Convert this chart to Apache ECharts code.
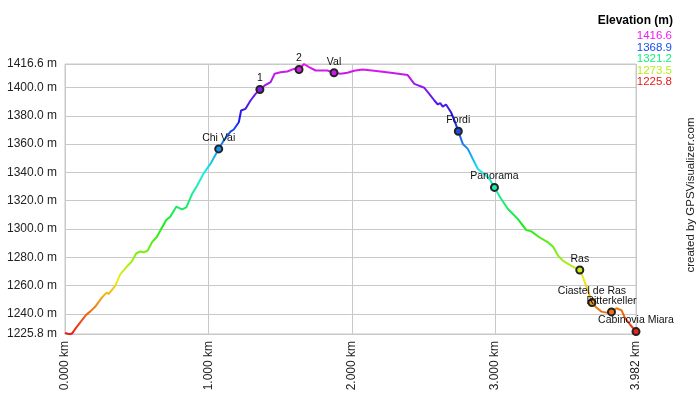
<!DOCTYPE html>
<html>
<head>
<meta charset="utf-8">
<script src="https://cdn.jsdelivr.net/npm/echarts@6/dist/echarts.min.js"></script>
<style>html,body{margin:0;padding:0;background:#fff}#c{width:700px;height:400px}</style>
</head>
<body>
<div id="c"></div>
<script>
// Track profile: distance (km) and elevation (m)
var distKm = [0.000,0.020,0.035,0.050,0.070,0.105,0.147,0.175,0.210,0.257,0.290,0.305,0.315,0.350,0.385,0.430,0.466,0.496,0.524,0.550,0.576,0.606,0.641,0.664,0.706,0.734,0.776,0.816,0.846,0.886,0.921,0.967,1.014,1.072,1.107,1.154,1.177,1.212,1.228,1.259,1.294,1.329,1.359,1.399,1.434,1.462,1.503,1.550,1.597,1.632,1.667,1.702,1.748,1.830,1.876,1.923,1.970,2.016,2.075,2.156,2.273,2.390,2.436,2.506,2.540,2.576,2.600,2.617,2.634,2.657,2.692,2.716,2.743,2.774,2.809,2.844,2.879,2.925,2.960,2.995,3.042,3.089,3.159,3.217,3.252,3.310,3.369,3.404,3.439,3.474,3.531,3.590,3.613,3.650,3.675,3.706,3.741,3.776,3.811,3.846,3.881,3.904,3.939,3.982];
var elevM = [1226.6,1226.0,1225.8,1226.2,1229.2,1233.9,1239.3,1241.6,1245.0,1251.5,1255.0,1254.2,1255.0,1259.8,1268.0,1273.3,1277.0,1282.7,1284.1,1283.6,1284.6,1290.5,1294.5,1298.8,1306.3,1308.7,1315.8,1313.9,1315.3,1324.7,1330.6,1339.3,1346.0,1356.6,1362.5,1368.8,1370.3,1375.4,1383.7,1384.9,1390.8,1395.5,1398.6,1401.9,1403.8,1409.7,1410.8,1411.3,1413.2,1412.7,1416.6,1414.4,1412.0,1412.0,1410.4,1409.7,1410.4,1411.8,1412.7,1411.8,1410.4,1408.8,1402.6,1399.8,1395.5,1390.8,1388.0,1388.9,1386.5,1388.0,1382.5,1376.6,1369.1,1360.1,1356.6,1349.5,1342.4,1338.9,1335.3,1329.4,1321.2,1314.1,1307.0,1299.2,1298.3,1294.0,1290.5,1287.4,1281.1,1277.5,1274.0,1271.0,1265.7,1255.5,1248.0,1244.5,1241.6,1240.9,1241.4,1244.0,1242.6,1237.4,1232.7,1227.5];

// Waypoints
var wpNames = ['Chi Vai','1','2','Val','Fordi','Panorama','Ras','Ciastel de Ras','Ritterkeller','Cabinovia Miara'];
var wpDist = [1.072,1.359,1.632,1.876,2.743,2.995,3.590,3.675,3.811,3.982];
var wpElev = [1356.6,1398.6,1412.7,1410.4,1369.1,1329.4,1271.0,1248.0,1241.4,1227.5];

// Axis ticks
var yTicks = [1225.8,1240,1260,1280,1300,1320,1340,1360,1380,1400,1416.6];
var xTicks = [0,1,2,3,3.982];
var legendVals = [1416.6,1368.9,1321.2,1273.5,1225.8];
var yMin = 1225.8, yMax = 1416.6;

function hsv(h, s, v) {
  var c = v * s, x = c * (1 - Math.abs((h / 60) % 2 - 1)), m = v - c, r, g, b;
  if (h < 60) { r = c; g = x; b = 0; }
  else if (h < 120) { r = x; g = c; b = 0; }
  else if (h < 180) { r = 0; g = c; b = x; }
  else if (h < 240) { r = 0; g = x; b = c; }
  else if (h < 300) { r = x; g = 0; b = c; }
  else { r = c; g = 0; b = x; }
  function hx(t) { var s2 = Math.round((t + m) * 255).toString(16); return s2.length < 2 ? '0' + s2 : s2; }
  return '#' + hx(r) + hx(g) + hx(b);
}
function colorFor(v) { return hsv(300 * (v - yMin) / (yMax - yMin), 0.9, 0.93); }
var stops = [];
for (var h = 0; h <= 300; h += 15) stops.push(hsv(h, 0.9, 0.93));

var line = distKm.map(function (d, i) { return [d, elevM[i]]; });
var wps = wpNames.map(function (n, i) { return { name: n, value: [wpDist[i], wpElev[i]] }; });

var font = 'Liberation Sans, Arial, sans-serif';
var graphics = [
  { type: 'text', right: 27, top: 15, style: { text: 'Elevation (m)', font: 'bold 12px ' + font, fill: '#000', textAlign: 'right' } }
];
legendVals.forEach(function (v, i) {
  graphics.push({ type: 'text', right: 28, top: 30 + i * 11.5, style: { text: v.toFixed(1), font: '11.5px ' + font, fill: colorFor(v), textAlign: 'right' } });
});
graphics.push({ type: 'text', x: 691, y: 195, rotation: Math.PI / 2, style: { text: 'created by GPSVisualizer.com', font: '11.5px ' + font, fill: '#222', textAlign: 'center', textVerticalAlign: 'middle' } });

var chart = echarts.init(document.getElementById('c'));
chart.setOption({
  animation: false,
  backgroundColor: '#fff',
  grid: { left: 65, right: 64, top: 64, bottom: 66, show: true, borderColor: '#c8c8c8', borderWidth: 1 },
  xAxis: {
    type: 'value', min: 0, max: 3.982,
    axisLine: { show: true, lineStyle: { color: '#c8c8c8' } },
    axisTick: { show: false, customValues: xTicks },
    splitLine: { show: true, lineStyle: { color: '#c8c8c8', width: 1 } },
    axisLabel: { customValues: xTicks, rotate: 90, margin: 7, color: '#222', fontSize: 12, fontFamily: font,
      formatter: function (v) { return v.toFixed(3) + ' km'; } }
  },
  yAxis: {
    type: 'value', min: yMin, max: yMax,
    axisLine: { show: false },
    axisTick: { show: false, customValues: yTicks },
    splitLine: { show: true, lineStyle: { color: '#c8c8c8', width: 1 } },
    axisLabel: { customValues: yTicks, margin: 8, color: '#222', fontSize: 12, fontFamily: font,
      formatter: function (v) { return v.toFixed(1) + ' m'; } }
  },
  visualMap: {
    show: false, type: 'continuous', dimension: 1, min: yMin, max: yMax,
    seriesIndex: [0, 1], inRange: { color: stops }
  },
  graphic: graphics,
  series: [
    { type: 'line', data: line, showSymbol: false, symbol: 'none', lineStyle: { width: 2 }, z: 2 },
    { type: 'scatter', data: wps, symbol: 'circle', symbolSize: 7, z: 3,
      itemStyle: { borderColor: '#222', borderWidth: 2, opacity: 1 },
      label: { show: true, position: 'top', distance: 1, formatter: '{b}', color: '#111', fontSize: 10.5, fontFamily: font } }
  ]
});
</script>
</body>
</html>
